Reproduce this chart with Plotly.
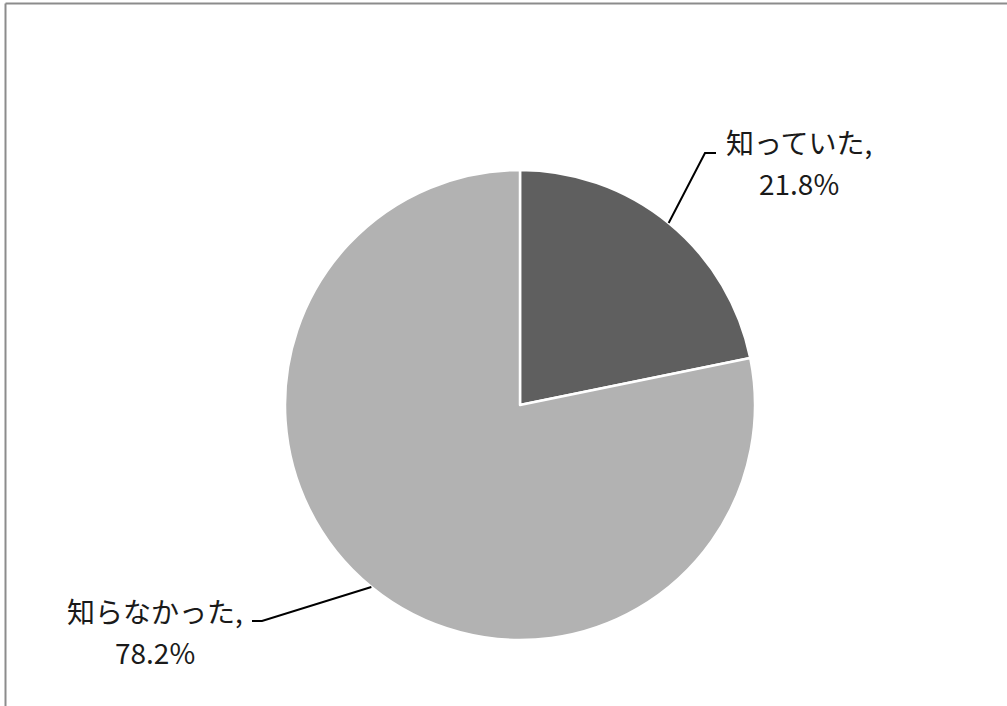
import math
import plotly.graph_objects as go

# Survey answers and their shares (%)
labels = ["知っていた", "知らなかった"]
shares = [21.8, 78.2]
slice_colors = ["#5f5f5f", "#b2b2b2"]

W, H = 1007, 706
CX, CY, R = 520, 405, 235  # pie centre and radius in pixels


def px(x, y):
    """Pixel position -> paper coordinates."""
    return x / W, 1 - y / H


x0, y1 = px(CX - R, CY - R)
x1, y0 = px(CX + R, CY + R)

fig = go.Figure(
    go.Pie(
        labels=labels,
        values=shares,
        sort=False,
        direction="clockwise",
        rotation=0,
        textinfo="none",
        hoverinfo="label+percent",
        marker=dict(colors=slice_colors, line=dict(color="white", width=2.5)),
        domain=dict(x=[x0, x1], y=[y0, y1]),
        showlegend=False,
    )
)

# Label placement: elbow of leader line and text centre (pixels)
label_layout = [
    dict(elbow=(705, 153), end=(716, 153), text_x=799, name_y=142, pct_y=183),
    dict(elbow=(262, 621), end=(252, 621), text_x=155, name_y=611, pct_y=652),
]

font = dict(family="Noto Sans CJK JP", size=28, color="#1a1a1a")
shapes = []
annotations = []
start = 0.0
total = sum(shares)
for name, val, lay in zip(labels, shares, label_layout):
    frac = val / total
    mid = (start + frac / 2) * 2 * math.pi
    start += frac
    # point on the rim at the middle of the slice (clockwise from 12 o'clock)
    ex = CX + R * math.sin(mid)
    ey = CY - R * math.cos(mid)
    pts = [px(ex, ey), px(*lay["elbow"]), px(*lay["end"])]
    path = "M {} {} L {} {} L {} {}".format(*[c for p in pts for c in p])
    shapes.append(dict(type="path", xref="paper", yref="paper", path=path,
                       line=dict(color="black", width=2)))
    tx, ty = px(lay["text_x"], lay["name_y"])
    annotations.append(dict(x=tx, y=ty, xref="paper", yref="paper", text=name + ",",
                            showarrow=False, font=font, xanchor="center", yanchor="middle"))
    tx, ty = px(lay["text_x"], lay["pct_y"])
    annotations.append(dict(x=tx, y=ty, xref="paper", yref="paper", text=f"{val:.1f}%",
                            showarrow=False, font=font, xanchor="center", yanchor="middle"))

# Chart-area frame (top and left edges)
fx, fy = px(5.5, 3.5)
shapes.append(dict(type="line", xref="paper", yref="paper", x0=fx, y0=fy, x1=1, y1=fy,
                   line=dict(color="#8c8c8c", width=2)))
shapes.append(dict(type="line", xref="paper", yref="paper", x0=fx, y0=fy, x1=fx, y1=0,
                   line=dict(color="#8c8c8c", width=2)))

fig.update_layout(
    width=W,
    height=H,
    margin=dict(l=0, r=0, t=0, b=0),
    paper_bgcolor="white",
    plot_bgcolor="white",
    shapes=shapes,
    annotations=annotations,
)

fig.write_html("out.html")
